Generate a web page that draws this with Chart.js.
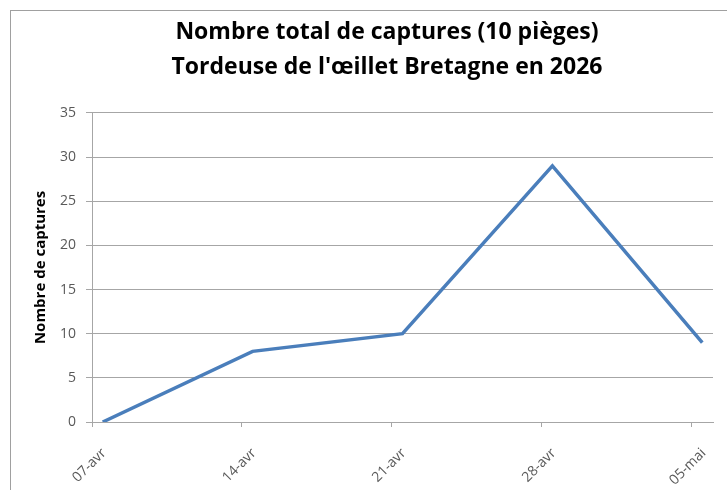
<!DOCTYPE html>
<html>
<head>
<meta charset="utf-8">
<script src="https://cdn.jsdelivr.net/npm/chart.js@4/dist/chart.umd.min.js"></script>
<style>
  html, body { margin: 0; padding: 0; background: #fff; }
  #wrap { position: relative; width: 727px; height: 490px; overflow: hidden; }
  #frame { position: absolute; left: 10px; top: 10px; width: 760px; height: 520px; border: 1px solid #a0a0a0; }
  #chart { position: absolute; left: 0; top: 0; }
</style>
</head>
<body>
<div id="wrap">
  <div id="frame"></div>
  <!-- le cadre Excel déborde à droite : canvas plus large, coupé par #wrap -->
  <canvas id="chart" width="774" height="490"></canvas>
</div>
<script>
// relevés hebdomadaires (jours depuis le 07-avr, relevé à midi)
const jours = [0.5, 7.5, 14.5, 21.5, 28.5]
const captures = [0, 8, 10, 29, 9]
const tickLabels = ['07-avr', '14-avr', '21-avr', '28-avr', '05-mai']
const yTicks = [0, 5, 10, 15, 20, 25, 30, 35]

const titre = ['Nombre total de captures (10 pièges)', "Tordeuse de l'œillet Bretagne en 2026"]

const points = jours.map((j, i) => ({ x: j, y: captures[i] }))

const config = {
  type: 'line',
  data: {
    datasets: [
      {
        label: 'Captures',
        data: points,
        borderColor: '#4a7ebb',
        backgroundColor: '#4a7ebb',
        borderWidth: 3.5,
        pointRadius: 0,
        tension: 0,
      },
    ],
  },
  options: {
    responsive: false,
    animation: false,
    layout: { padding: 0 },
    plugins: {
      legend: { display: false },
      tooltip: { enabled: false },
      title: {
        display: true,
        text: titre,
        color: '#000',
        font: { family: 'Open Sans', size: 23, weight: 'bold', lineHeight: 1.52 },
        padding: { top: 15, bottom: 28 },
      },
    },
    scales: {
      x: {
        type: 'linear',
        min: 0,
        max: 29,
        afterFit: (s) => { s.height = 68 },
        border: { color: '#a6a6a6' },
        grid: { drawOnChartArea: false, drawTicks: true, tickLength: 5, color: '#a6a6a6' },
        ticks: {
          stepSize: 7,
          includeBounds: false,
          minRotation: 45,
          maxRotation: 45,
          padding: 18,
          labelOffset: 12,
          color: '#595959',
          font: { family: 'Open Sans', size: 14 },
          callback: (v) => tickLabels[v / 7],
        },
      },
      y: {
        min: 0,
        max: 35,
        afterFit: (s) => { s.width = 92 },
        afterBuildTicks: (s) => { s.ticks = yTicks.map((v) => ({ value: v })) },
        border: { color: '#a6a6a6' },
        grid: { color: '#a6a6a6', tickLength: 6 },
        ticks: {
          padding: 10,
          color: '#595959',
          font: { family: 'Open Sans', size: 14 },
        },
        title: {
          display: true,
          text: 'Nombre de captures',
          color: '#000',
          font: { family: 'Open Sans', size: 15, weight: 'bold' },
          padding: { top: 32 },
        },
      },
      // marge droite vide pour centrer le titre sur le cadre entier
      marge: {
        type: 'linear',
        position: 'right',
        afterFit: (s) => { s.width = 61 },
        grid: { display: false },
        border: { display: false },
        ticks: { display: false },
      },
    },
  },
}

const chart = new Chart(document.getElementById('chart'), config)
</script>
</body>
</html>
